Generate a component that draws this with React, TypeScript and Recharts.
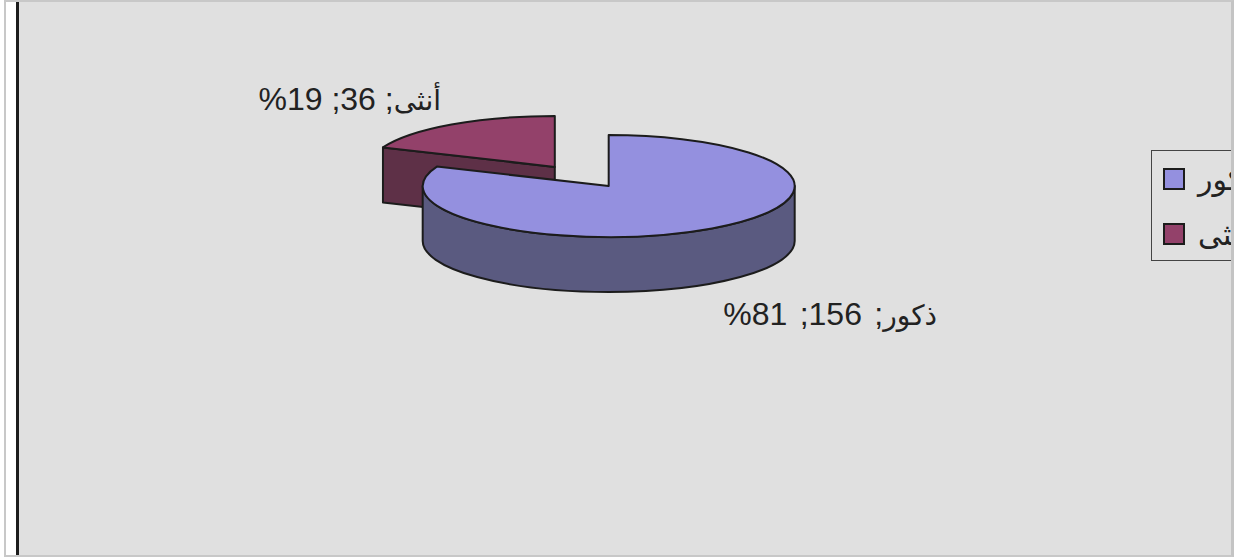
import React from 'react';
import { PieChart, Pie, Legend } from 'recharts';

// slices are listed back to front: the male slice has to paint over the female one
const categories = ['أنثى', 'ذكور'];
const values = [36, 156];

const TOP_COLORS = ['#93416A', '#9490DF'];
const WALL_COLORS = ['#5E3047', '#5A5A80'];
const OUTLINE = '#1c1c1c';
const TEXT_COLOR = '#222222';
const FONT = '"Liberation Sans", Arial, "DejaVu Sans", sans-serif';

const CX = 581.75;
const CY = 176.5;
const RADIUS = 186;
const SQUASH = 0.274;
const DEPTH = 55;
const EXPLODE = 48.5;
const EXPLODE_SQUASH = 0.237;

const LABEL_ANCHORS = [
    { x: 441, y: 110, wordSpacing: 0 },
    { x: 937, y: 325, wordSpacing: 3.5 },
];

const chartData = categories.map((name, i) => ({ name, value: values[i], fill: TOP_COLORS[i] }));

const rad = (deg: number) => (deg * Math.PI) / 180;

const Slice3D = (props: any) => {
    const { startAngle, endAngle, index } = props;
    const mid = rad((startAngle + endAngle) / 2);
    const cx = CX + EXPLODE * Math.cos(mid);
    const cy = CY - EXPLODE * EXPLODE_SQUASH * Math.sin(mid);
    const ry = RADIUS * SQUASH;
    const pt = (a: number, drop = 0) => ({
        x: cx + RADIUS * Math.cos(rad(a)),
        y: cy - ry * Math.sin(rad(a)) + drop,
    });
    const wall = WALL_COLORS[index];
    const common = { stroke: OUTLINE, strokeWidth: 2, strokeLinejoin: 'round' as const };

    const p0 = pt(startAngle);
    const p1 = pt(endAngle);
    const large = endAngle - startAngle > 180 ? 1 : 0;
    const top = `M${cx},${cy} L${p0.x},${p0.y} A${RADIUS},${ry} 0 ${large} 0 ${p1.x},${p1.y} Z`;

    // outer wall only shows along the front half of the ellipse
    const from = Math.max(startAngle, 180);
    const to = Math.min(endAngle, 360);
    let outer = null;
    if (to > from) {
        const a = pt(from);
        const b = pt(to);
        const c = pt(to, DEPTH);
        const d = pt(from, DEPTH);
        outer = (
            <path
                d={`M${a.x},${a.y} A${RADIUS},${ry} 0 0 0 ${b.x},${b.y} L${c.x},${c.y} A${RADIUS},${ry} 0 0 1 ${d.x},${d.y} Z`}
                fill={wall}
                {...common}
            />
        );
    }

    // flat cut face at the end of the slice, when it looks towards the viewer
    let cut = null;
    if (Math.cos(rad(endAngle)) < -0.01) {
        cut = (
            <path
                d={`M${cx},${cy} L${p1.x},${p1.y} L${p1.x},${p1.y + DEPTH} L${cx},${cy + DEPTH} Z`}
                fill={wall}
                {...common}
            />
        );
    }

    return (
        <g>
            {cut}
            {outer}
            <path d={top} fill={TOP_COLORS[index]} {...common} />
        </g>
    );
};

const renderLabel = (props: any) => {
    const { name, value, percent, index } = props;
    const pos = LABEL_ANCHORS[index];
    return (
        <text
            x={pos.x}
            y={pos.y}
            direction="rtl"
            textAnchor="start"
            fontFamily={FONT}
            fontSize={32}
            wordSpacing={pos.wordSpacing}
            fill={TEXT_COLOR}
        >
            <tspan fontSize={28}>{name}</tspan>
            {`; ${value}; ${Math.round(percent * 100)}%`}
        </text>
    );
};

const renderLegend = (props: any) => {
    const items = [...(props.payload || [])].reverse();
    return (
        <div
            style={{
                boxSizing: 'border-box',
                width: 80,
                height: 111,
                overflow: 'hidden',
                borderTop: '1px solid #444',
                borderBottom: '1px solid #444',
                borderLeft: '1px solid #444',
                fontFamily: FONT,
                fontSize: 30,
                color: TEXT_COLOR,
            }}
        >
            {items.map((item: any) => (
                <div key={item.value} style={{ display: 'flex', alignItems: 'center', height: 54, marginTop: 1, whiteSpace: 'nowrap' }}>
                    <span
                        style={{
                            boxSizing: 'border-box',
                            flex: 'none',
                            width: 22,
                            height: 22,
                            marginLeft: 11,
                            marginRight: 13,
                            background: item.color,
                            border: `2px solid ${OUTLINE}`,
                        }}
                    />
                    <span>{item.value}</span>
                </div>
            ))}
        </div>
    );
};

const App: React.FC = () => {
    return (
        <div style={{ position: 'absolute', left: 0, top: 0, width: 1234, height: 558, background: '#fff', overflow: 'hidden' }}>
            <div style={{ position: 'absolute', left: 4, top: 0, width: 1230, height: 557, boxSizing: 'border-box', border: '2px solid #c8c8c8', borderRight: '3px solid #c4c4c4', background: '#fff' }} />
            <div style={{ position: 'absolute', left: 16, top: 2, width: 1215, height: 553, boxSizing: 'border-box', borderLeft: '3px solid #1c1c1c', background: '#e0e0e0' }} />
            <div style={{ position: 'absolute', left: 0, top: 0 }}>
                <PieChart width={1234} height={558} margin={{ top: 0, right: 0, bottom: 0, left: 0 }}>
                    <Legend
                        layout="vertical"
                        content={renderLegend}
                        wrapperStyle={{ left: 1151, top: 150, width: 80, height: 111 }}
                    />
                    <Pie
                        data={chartData}
                        dataKey="value"
                        nameKey="name"
                        cx={CX}
                        cy={CY}
                        outerRadius={RADIUS}
                        startAngle={90}
                        endAngle={450}
                        paddingAngle={0}
                        shape={Slice3D}
                        label={renderLabel}
                        labelLine={false}
                        isAnimationActive={false}
                    />
                </PieChart>
            </div>
        </div>
    );
};

export default App;
